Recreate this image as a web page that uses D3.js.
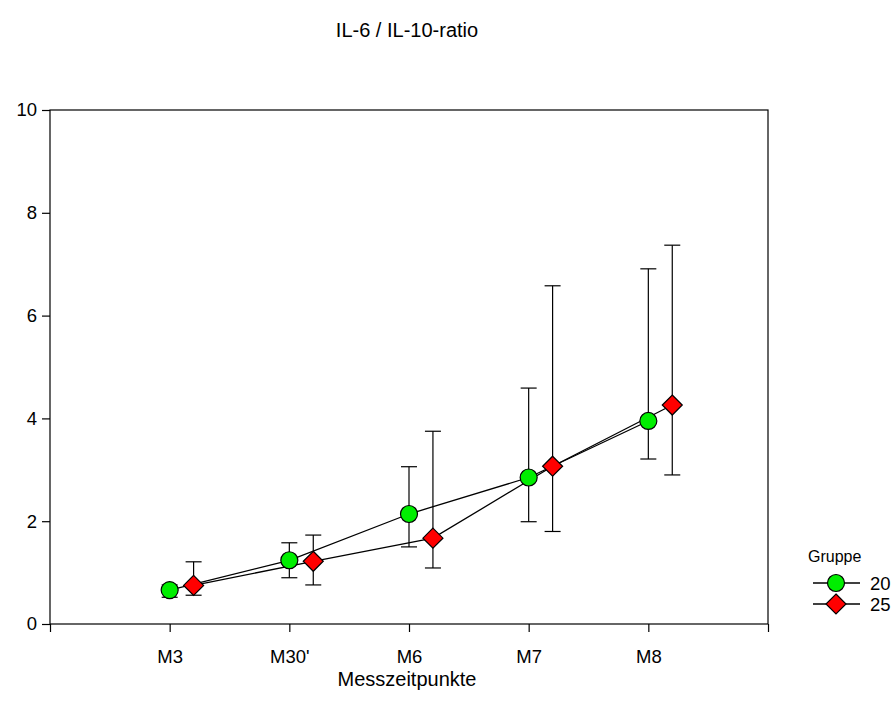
<!DOCTYPE html>
<html>
<head>
<meta charset="utf-8">
<title>IL-6 / IL-10-ratio</title>
<script src="https://cdn.jsdelivr.net/npm/d3@7"></script>
<style>
  body { margin: 0; background: #fff; }
  svg { font-family: "Liberation Sans", Arial, sans-serif; }
</style>
</head>
<body>
<svg id="chart" width="895" height="715"></svg>
<script>
// data
var categories = ["M3", "M30'", "M6", "M7", "M8"];
var yTicks = [0, 2, 4, 6, 8, 10];

var g20Mean  = [0.66, 1.24, 2.14, 2.85, 3.95];
var g20Lower = [0.52, 0.90, 1.50, 1.99, 3.21];
var g20Upper = [0.76, 1.58, 3.06, 4.59, 6.91];

var g25Mean  = [0.75, 1.22, 1.67, 3.07, 4.26];
var g25Lower = [0.56, 0.76, 1.09, 1.80, 2.90];
var g25Upper = [1.21, 1.73, 3.75, 6.58, 7.37];

var svg = d3.select("#chart");

// x: category index 1..5 on domain 0..6
var x = d3.scaleLinear().domain([0, 6]).range([50, 768]);
var y = d3.scaleLinear().domain([0, 10]).range([624, 110]);

// frame
svg.append("rect")
    .attr("x", x(0)).attr("y", y(10))
    .attr("width", x(6) - x(0)).attr("height", y(0) - y(10))
    .attr("fill", "none").attr("stroke", "#000").attr("stroke-width", 1.2);

// y axis
var yAxis = svg.append("g")
    .attr("transform", "translate(" + x(0) + ",0)")
    .call(d3.axisLeft(y).tickValues(yTicks).tickSize(8).tickPadding(5).tickFormat(d3.format("d")));
yAxis.select(".domain").remove();
yAxis.selectAll("text").style("font-size", "18.5px").style("font-family", "'Liberation Sans', Arial, sans-serif").attr("fill", "#000");
yAxis.selectAll("line").attr("stroke-width", 1.2);

// x axis
var xAxis = svg.append("g")
    .attr("transform", "translate(0," + y(0) + ")")
    .call(d3.axisBottom(x).tickValues([0, 1, 2, 3, 4, 5, 6]).tickSize(8).tickPadding(18)
        .tickFormat(function (d) { return (d >= 1 && d <= 5) ? categories[d - 1] : ""; }));
xAxis.select(".domain").remove();
xAxis.selectAll("text").style("font-size", "18.5px").style("font-family", "'Liberation Sans', Arial, sans-serif").attr("fill", "#000");
xAxis.selectAll("line").attr("stroke-width", 1.2);

// titles
svg.append("text").attr("x", 407).attr("y", 37).attr("text-anchor", "middle")
    .style("font-size", "20px").text("IL-6 / IL-10-ratio");
svg.append("text").attr("x", 407).attr("y", 686).attr("text-anchor", "middle")
    .style("font-size", "20px").text("Messzeitpunkte");

var series = [
    { name: "20", mean: g20Mean, lo: g20Lower, hi: g20Upper, off: 0, shape: "circle", color: "#00ee00" },
    { name: "25", mean: g25Mean, lo: g25Lower, hi: g25Upper, off: 0.2, shape: "diamond", color: "#ff0000" }
];

var capW = 8;

series.forEach(function (s) {
    var pts = s.mean.map(function (m, i) {
        return { x: i + 1 + s.off, m: m, lo: s.lo[i], hi: s.hi[i] };
    });
    var eg = svg.append("g");
    pts.forEach(function (p) {
        eg.append("line").attr("x1", x(p.x)).attr("x2", x(p.x))
            .attr("y1", y(p.lo)).attr("y2", y(p.hi))
            .attr("stroke", "#000").attr("stroke-width", 1.2);
        [p.lo, p.hi].forEach(function (v) {
            eg.append("line").attr("x1", x(p.x) - capW).attr("x2", x(p.x) + capW)
                .attr("y1", y(v)).attr("y2", y(v))
                .attr("stroke", "#000").attr("stroke-width", 1.2);
        });
    });
    s.pts = pts;
});

series.forEach(function (s) {
    svg.append("path")
        .datum(s.pts)
        .attr("fill", "none").attr("stroke", "#000").attr("stroke-width", 1.3)
        .attr("d", d3.line().x(function (p) { return x(p.x); }).y(function (p) { return y(p.m); }));
});

function marker(sel, shape, color) {
    if (shape === "circle") {
        sel.append("circle").attr("r", 8.5).attr("fill", color)
            .attr("stroke", "#000").attr("stroke-width", 1.2);
    } else {
        sel.append("path").attr("d", "M0,-10L10,0L0,10L-10,0Z").attr("fill", color)
            .attr("stroke", "#000").attr("stroke-width", 1.2);
    }
}

series.forEach(function (s) {
    s.pts.forEach(function (p) {
        var mg = svg.append("g").attr("transform", "translate(" + x(p.x) + "," + y(p.m) + ")");
        marker(mg, s.shape, s.color);
    });
});

// legend
var lg = svg.append("g").attr("transform", "translate(808,0)");
lg.append("text").attr("x", 0).attr("y", 562).style("font-size", "16px").text("Gruppe");
series.forEach(function (s, i) {
    var ly = 583 + i * 21;
    lg.append("line").attr("x1", 5).attr("x2", 52).attr("y1", ly).attr("y2", ly)
        .attr("stroke", "#000").attr("stroke-width", 1.3);
    var mg = lg.append("g").attr("transform", "translate(28," + ly + ")");
    marker(mg, s.shape, s.color);
    lg.append("text").attr("x", 62).attr("y", ly + 6.5).style("font-size", "18.5px").text(s.name);
});
</script>
</body>
</html>
